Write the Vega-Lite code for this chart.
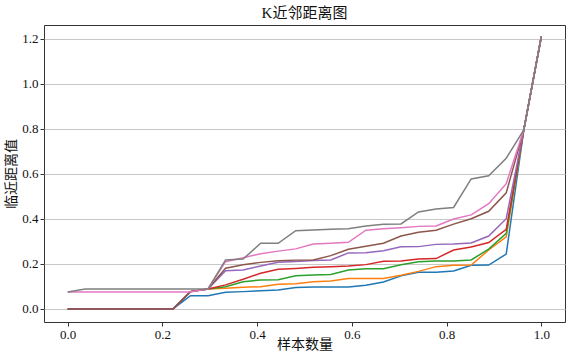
{
  "$schema": "https://vega.github.io/schema/vega-lite/v6.json",
  "autosize": "none",
  "width": 521,
  "height": 297,
  "padding": {"left": 44, "top": 25, "right": 2, "bottom": 31},
  "background": "white",
  "title": {"text": "K近邻距离图", "font": "Liberation Serif, Noto Sans CJK SC", "fontSize": 15, "fontWeight": "normal", "color": "#111", "offset": 4},
  "config": {
    "view": {"stroke": "#333", "strokeWidth": 1},
    "axis": {"labelFont": "Liberation Serif", "labelFontSize": 13, "labelColor": "#111", "tickColor": "#333", "tickSize": 4, "labelPadding": 2, "domain": false, "titleFont": "Noto Sans CJK SC", "titleFontSize": 14, "titleFontWeight": "normal", "titleColor": "#111"}
  },
  "data": {"values": [
    {"x": 0.0, "s0": 0, "s1": 0, "s2": 0, "s3": 0, "s4": 0, "s5": 0, "s6": 0.075, "s7": 0.075},
    {"x": 0.0370, "s0": 0, "s1": 0, "s2": 0, "s3": 0, "s4": 0, "s5": 0, "s6": 0.075, "s7": 0.089},
    {"x": 0.0741, "s0": 0, "s1": 0, "s2": 0, "s3": 0, "s4": 0, "s5": 0, "s6": 0.075, "s7": 0.089},
    {"x": 0.1111, "s0": 0, "s1": 0, "s2": 0, "s3": 0, "s4": 0, "s5": 0, "s6": 0.075, "s7": 0.089},
    {"x": 0.1481, "s0": 0, "s1": 0, "s2": 0, "s3": 0, "s4": 0, "s5": 0, "s6": 0.075, "s7": 0.089},
    {"x": 0.1852, "s0": 0, "s1": 0, "s2": 0, "s3": 0, "s4": 0, "s5": 0, "s6": 0.075, "s7": 0.089},
    {"x": 0.2222, "s0": 0, "s1": 0, "s2": 0, "s3": 0, "s4": 0, "s5": 0, "s6": 0.075, "s7": 0.089},
    {"x": 0.2593, "s0": 0.059, "s1": 0.077, "s2": 0.077, "s3": 0.077, "s4": 0.077, "s5": 0.077, "s6": 0.075, "s7": 0.089},
    {"x": 0.2963, "s0": 0.059, "s1": 0.089, "s2": 0.089, "s3": 0.089, "s4": 0.089, "s5": 0.089, "s6": 0.089, "s7": 0.089},
    {"x": 0.3333, "s0": 0.074, "s1": 0.092, "s2": 0.099, "s3": 0.107, "s4": 0.170, "s5": 0.181, "s6": 0.210, "s7": 0.218},
    {"x": 0.3704, "s0": 0.077, "s1": 0.096, "s2": 0.121, "s3": 0.132, "s4": 0.173, "s5": 0.196, "s6": 0.228, "s7": 0.222},
    {"x": 0.4074, "s0": 0.081, "s1": 0.099, "s2": 0.129, "s3": 0.159, "s4": 0.191, "s5": 0.207, "s6": 0.245, "s7": 0.292},
    {"x": 0.4444, "s0": 0.084, "s1": 0.110, "s2": 0.130, "s3": 0.176, "s4": 0.208, "s5": 0.214, "s6": 0.257, "s7": 0.292},
    {"x": 0.4815, "s0": 0.095, "s1": 0.112, "s2": 0.148, "s3": 0.180, "s4": 0.211, "s5": 0.217, "s6": 0.267, "s7": 0.348},
    {"x": 0.5185, "s0": 0.098, "s1": 0.121, "s2": 0.151, "s3": 0.185, "s4": 0.215, "s5": 0.218, "s6": 0.289, "s7": 0.351},
    {"x": 0.5556, "s0": 0.098, "s1": 0.124, "s2": 0.153, "s3": 0.188, "s4": 0.218, "s5": 0.237, "s6": 0.292, "s7": 0.354},
    {"x": 0.5926, "s0": 0.098, "s1": 0.135, "s2": 0.173, "s3": 0.191, "s4": 0.249, "s5": 0.265, "s6": 0.296, "s7": 0.356},
    {"x": 0.6296, "s0": 0.105, "s1": 0.135, "s2": 0.179, "s3": 0.197, "s4": 0.250, "s5": 0.279, "s6": 0.350, "s7": 0.369},
    {"x": 0.6667, "s0": 0.120, "s1": 0.135, "s2": 0.179, "s3": 0.212, "s4": 0.259, "s5": 0.292, "s6": 0.356, "s7": 0.376},
    {"x": 0.7037, "s0": 0.147, "s1": 0.150, "s2": 0.196, "s3": 0.213, "s4": 0.276, "s5": 0.324, "s6": 0.361, "s7": 0.378},
    {"x": 0.7407, "s0": 0.163, "s1": 0.167, "s2": 0.210, "s3": 0.222, "s4": 0.277, "s5": 0.341, "s6": 0.367, "s7": 0.431},
    {"x": 0.7778, "s0": 0.163, "s1": 0.188, "s2": 0.213, "s3": 0.224, "s4": 0.287, "s5": 0.350, "s6": 0.369, "s7": 0.444},
    {"x": 0.8148, "s0": 0.169, "s1": 0.194, "s2": 0.213, "s3": 0.262, "s4": 0.289, "s5": 0.377, "s6": 0.400, "s7": 0.451},
    {"x": 0.8519, "s0": 0.194, "s1": 0.195, "s2": 0.218, "s3": 0.275, "s4": 0.293, "s5": 0.401, "s6": 0.418, "s7": 0.578},
    {"x": 0.8889, "s0": 0.195, "s1": 0.262, "s2": 0.266, "s3": 0.295, "s4": 0.324, "s5": 0.434, "s6": 0.468, "s7": 0.592},
    {"x": 0.9259, "s0": 0.244, "s1": 0.320, "s2": 0.336, "s3": 0.354, "s4": 0.401, "s5": 0.516, "s6": 0.557, "s7": 0.670},
    {"x": 0.9630, "s0": 0.796, "s1": 0.796, "s2": 0.796, "s3": 0.796, "s4": 0.796, "s5": 0.796, "s6": 0.796, "s7": 0.796},
    {"x": 1.0, "s0": 1.21, "s1": 1.21, "s2": 1.21, "s3": 1.21, "s4": 1.21, "s5": 1.21, "s6": 1.21, "s7": 1.21}
  ]},
  "transform": [{"fold": ["s0", "s1", "s2", "s3", "s4", "s5", "s6", "s7"], "as": ["series", "v"]}],
  "mark": {"type": "line", "strokeWidth": 1.5, "clip": true},
  "encoding": {
    "x": {"field": "x", "type": "quantitative", "scale": {"domain": [-0.05, 1.05], "nice": false, "zero": false},
      "axis": {"values": [0, 0.2, 0.4, 0.6, 0.8, 1.0], "format": ".1f", "grid": false, "title": "样本数量", "titleY": 22, "titleBaseline": "middle"}},
    "y": {"field": "v", "type": "quantitative", "scale": {"domain": [-0.058, 1.262], "nice": false, "zero": false},
      "axis": {"values": [0, 0.2, 0.4, 0.6, 0.8, 1.0, 1.2], "format": ".1f", "grid": true, "gridColor": "#c8c8c8", "gridWidth": 1, "title": "临近距离值", "titleX": -33, "titleBaseline": "middle"}},
    "color": {"field": "series", "type": "nominal", "legend": null,
      "scale": {"domain": ["s0", "s1", "s2", "s3", "s4", "s5", "s6", "s7"], "range": ["#1f77b4", "#ff7f0e", "#2ca02c", "#d62728", "#9467bd", "#8c564b", "#e377c2", "#7f7f7f"]}},
    "order": {"field": "x", "type": "quantitative"}
  }
}
